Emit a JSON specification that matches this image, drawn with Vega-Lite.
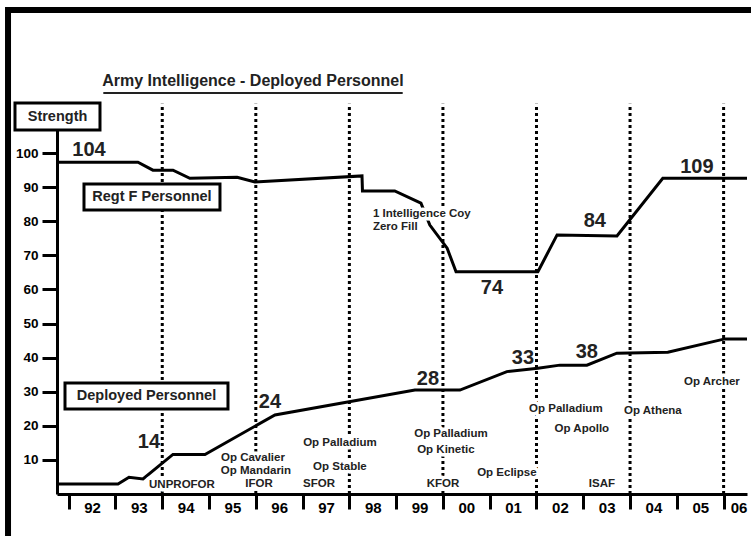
{
  "$schema": "https://vega.github.io/schema/vega-lite/v6.json",
  "width": 690,
  "height": 375,
  "autosize": {"type": "none"},
  "padding": {"left": 57, "top": 119, "right": 4, "bottom": 42},
  "background": "white",
  "config": {"font": "Liberation Sans", "view": {"stroke": null}},
  "datasets": {
    "personnel": [
      {"series": "Regt F Personnel", "year": 1991.75, "value": 97.3},
      {"series": "Regt F Personnel", "year": 1993.48, "value": 97.3},
      {"series": "Regt F Personnel", "year": 1993.8, "value": 95.0},
      {"series": "Regt F Personnel", "year": 1994.23, "value": 95.0},
      {"series": "Regt F Personnel", "year": 1994.59, "value": 92.6},
      {"series": "Regt F Personnel", "year": 1995.6, "value": 92.9},
      {"series": "Regt F Personnel", "year": 1995.98, "value": 91.5},
      {"series": "Regt F Personnel", "year": 1998.27, "value": 93.3},
      {"series": "Regt F Personnel", "year": 1998.28, "value": 88.9},
      {"series": "Regt F Personnel", "year": 1998.97, "value": 88.9},
      {"series": "Regt F Personnel", "year": 1999.53, "value": 85.3},
      {"series": "Regt F Personnel", "year": 1999.72, "value": 78.9},
      {"series": "Regt F Personnel", "year": 2000.09, "value": 72.1},
      {"series": "Regt F Personnel", "year": 2000.28, "value": 65.2},
      {"series": "Regt F Personnel", "year": 2002.03, "value": 65.2},
      {"series": "Regt F Personnel", "year": 2002.44, "value": 76.0},
      {"series": "Regt F Personnel", "year": 2003.72, "value": 75.7},
      {"series": "Regt F Personnel", "year": 2004.7, "value": 92.6},
      {"series": "Regt F Personnel", "year": 2006.5, "value": 92.6},
      {"series": "Deployed Personnel", "year": 1991.75, "value": 2.9},
      {"series": "Deployed Personnel", "year": 1993.054, "value": 2.9},
      {"series": "Deployed Personnel", "year": 1993.289, "value": 4.9},
      {"series": "Deployed Personnel", "year": 1993.588, "value": 4.4},
      {"series": "Deployed Personnel", "year": 1994.229, "value": 11.6},
      {"series": "Deployed Personnel", "year": 1994.913, "value": 11.6},
      {"series": "Deployed Personnel", "year": 1996.409, "value": 23.2},
      {"series": "Deployed Personnel", "year": 1999.401, "value": 30.5},
      {"series": "Deployed Personnel", "year": 2000.363, "value": 30.5},
      {"series": "Deployed Personnel", "year": 2001.367, "value": 35.9},
      {"series": "Deployed Personnel", "year": 2002.03, "value": 36.9},
      {"series": "Deployed Personnel", "year": 2002.5, "value": 37.8},
      {"series": "Deployed Personnel", "year": 2003.077, "value": 37.8},
      {"series": "Deployed Personnel", "year": 2003.718, "value": 41.3},
      {"series": "Deployed Personnel", "year": 2004.808, "value": 41.6},
      {"series": "Deployed Personnel", "year": 2006.026, "value": 45.5},
      {"series": "Deployed Personnel", "year": 2006.5, "value": 45.5}
    ],
    "eras": [
      {"year": 1994}, {"year": 1996}, {"year": 1998}, {"year": 2000},
      {"year": 2002}, {"year": 2004}, {"year": 2006}
    ],
    "labels": [
      {"kind": "num", "label": "104", "year": 1992.434, "value": 100.9},
      {"kind": "num", "label": "14", "year": 1993.716, "value": 15.2},
      {"kind": "num", "label": "24", "year": 1996.302, "value": 27.0},
      {"kind": "num", "label": "28", "year": 1999.679, "value": 33.7},
      {"kind": "num", "label": "33", "year": 2001.709, "value": 39.9},
      {"kind": "num", "label": "38", "year": 2003.077, "value": 41.6},
      {"kind": "num", "label": "74", "year": 2001.047, "value": 60.4},
      {"kind": "num", "label": "84", "year": 2003.248, "value": 80.1},
      {"kind": "num", "label": "109", "year": 2005.428, "value": 95.9},
      {"kind": "op", "label": "UNPROFOR", "year": 1994.421, "value": 2.6},
      {"kind": "op", "label": "Op Cavalier", "year": 1995.939, "value": 10.6},
      {"kind": "op", "label": "Op Mandarin", "year": 1996.003, "value": 6.7},
      {"kind": "op", "label": "IFOR", "year": 1996.067, "value": 2.9},
      {"kind": "op", "label": "Op Palladium", "year": 1997.798, "value": 15.0},
      {"kind": "op", "label": "Op Stable", "year": 1997.798, "value": 7.9},
      {"kind": "op", "label": "SFOR", "year": 1997.35, "value": 2.9},
      {"kind": "op", "label": "Op Palladium", "year": 2000.171, "value": 17.6},
      {"kind": "op", "label": "Op Kinetic", "year": 2000.064, "value": 12.9},
      {"kind": "op", "label": "KFOR", "year": 2000.0, "value": 2.9},
      {"kind": "op", "label": "Op Eclipse", "year": 2001.367, "value": 6.2},
      {"kind": "op", "label": "Op Palladium", "year": 2002.628, "value": 24.9},
      {"kind": "op", "label": "Op Apollo", "year": 2002.97, "value": 19.1},
      {"kind": "op", "label": "ISAF", "year": 2003.398, "value": 2.9},
      {"kind": "op", "label": "Op Athena", "year": 2004.488, "value": 24.3},
      {"kind": "op", "label": "Op Archer", "year": 2005.749, "value": 32.8},
      {"kind": "note", "label": "1 Intelligence Coy", "year": 1998.504, "value": 82.1},
      {"kind": "note", "label": "Zero Fill", "year": 1998.504, "value": 78.3},
      {"kind": "box", "label": "Strength", "year": 1991.761, "value": 110.7},
      {"kind": "box", "label": "Regt F Personnel", "year": 1993.78, "value": 87.1},
      {"kind": "box", "label": "Deployed Personnel", "year": 1993.663, "value": 28.7}
    ]
  },
  "layer": [
    {
      "data": {"values": [{"frame": "outer"}]},
      "mark": {"type": "rect", "fillOpacity": 0, "stroke": "black", "strokeWidth": 6},
      "encoding": {"x": {"datum": 1990.703}, "x2": {"datum": 2008}, "y": {"datum": 141.94}, "y2": {"datum": -20}}
    },
    {
      "data": {"name": "eras"},
      "mark": {"type": "rule", "color": "black", "strokeWidth": 3, "strokeDash": [3, 3]},
      "encoding": {
        "x": {"field": "year", "type": "quantitative", "title": null},
        "y": {"datum": 0},
        "y2": {"datum": 114.5}
      }
    },
    {
      "data": {"name": "personnel"},
      "mark": {"type": "line", "color": "black", "strokeWidth": 3},
      "encoding": {
        "x": {
          "field": "year", "type": "quantitative", "title": null,
          "scale": {"domain": [1991.75, 2006.5], "nice": false, "zero": false},
          "axis": {
            "values": [1992, 1993, 1994, 1995, 1996, 1997, 1998, 1999, 2000, 2001, 2002, 2003, 2004, 2005, 2006],
            "format": "d",
            "labelExpr": "substring(datum.label, 2, 4)",
            "labelOffset": {"condition": {"test": "datum.value == 2006", "value": 15}, "value": 23.4},
            "labelFontSize": 15, "labelFontWeight": "bold", "labelColor": "black",
            "labelPadding": -9, "labelFlush": false, "labelOverlap": false, "labelBound": false,
            "tickSize": 15, "tickWidth": 3, "tickColor": "black",
            "domainWidth": 3, "domainColor": "black", "grid": false
          }
        },
        "y": {
          "field": "value", "type": "quantitative", "title": null,
          "scale": {"domain": [0, 110], "nice": false},
          "axis": {
            "values": [10, 20, 30, 40, 50, 60, 70, 80, 90, 100],
            "labelFontSize": 13.5, "labelFontWeight": "bold", "labelColor": "black",
            "labelPadding": 4, "tickSize": 15, "tickWidth": 3, "tickColor": "black",
            "domainWidth": 3, "domainColor": "black", "grid": false
          }
        },
        "detail": {"field": "series"}
      }
    },
    {
      "data": {"name": "labels"},
      "transform": [{"filter": "datum.kind == 'op'"}],
      "mark": {"type": "text", "fontSize": 11.5, "fontWeight": "bold", "fill": "white", "stroke": "white", "strokeWidth": 7, "strokeJoin": "round", "baseline": "middle"},
      "encoding": {
        "x": {"field": "year", "type": "quantitative", "title": null},
        "y": {"field": "value", "type": "quantitative", "title": null},
        "text": {"field": "label"}
      }
    },
    {
      "data": {"name": "labels"},
      "transform": [{"filter": "datum.kind == 'note'"}],
      "mark": {"type": "text", "fontSize": 11.5, "fontWeight": "bold", "align": "left", "fill": "white", "stroke": "white", "strokeWidth": 7, "strokeJoin": "round", "baseline": "middle"},
      "encoding": {
        "x": {"field": "year", "type": "quantitative", "title": null},
        "y": {"field": "value", "type": "quantitative", "title": null},
        "text": {"field": "label"}
      }
    },
    {
      "data": {"name": "labels"},
      "transform": [{"filter": "datum.kind == 'op'"}],
      "mark": {"type": "text", "fontSize": 11.5, "fontWeight": "bold", "color": "#222", "baseline": "middle"},
      "encoding": {
        "x": {"field": "year", "type": "quantitative", "title": null},
        "y": {"field": "value", "type": "quantitative", "title": null},
        "text": {"field": "label"}
      }
    },
    {
      "data": {"name": "labels"},
      "transform": [{"filter": "datum.kind == 'note'"}],
      "mark": {"type": "text", "fontSize": 11.5, "fontWeight": "bold", "align": "left", "color": "#222", "baseline": "middle"},
      "encoding": {
        "x": {"field": "year", "type": "quantitative", "title": null},
        "y": {"field": "value", "type": "quantitative", "title": null},
        "text": {"field": "label"}
      }
    },
    {
      "data": {"name": "labels"},
      "transform": [{"filter": "datum.kind == 'num'"}],
      "mark": {"type": "text", "fontSize": 20, "fontWeight": "bold", "color": "#222", "baseline": "middle"},
      "encoding": {
        "x": {"field": "year", "type": "quantitative", "title": null},
        "y": {"field": "value", "type": "quantitative", "title": null},
        "text": {"field": "label"}
      }
    },
    {
      "data": {"values": [{"box": "Strength"}]},
      "mark": {"type": "rect", "fill": "white", "stroke": "black", "strokeWidth": 3},
      "encoding": {"x": {"datum": 1990.852}, "x2": {"datum": 1992.669}, "y": {"datum": 114.66}, "y2": {"datum": 106.74}}
    },
    {
      "data": {"values": [{"box": "Regt F Personnel"}]},
      "mark": {"type": "rect", "fill": "white", "stroke": "black", "strokeWidth": 3},
      "encoding": {"x": {"datum": 1992.327}, "x2": {"datum": 1995.234}, "y": {"datum": 90.9}, "y2": {"datum": 83.3}}
    },
    {
      "data": {"values": [{"box": "Deployed Personnel"}]},
      "mark": {"type": "rect", "fill": "white", "stroke": "black", "strokeWidth": 3},
      "encoding": {"x": {"datum": 1991.921}, "x2": {"datum": 1995.405}, "y": {"datum": 32.55}, "y2": {"datum": 24.93}}
    },
    {
      "data": {"name": "labels"},
      "transform": [{"filter": "datum.kind == 'box'"}],
      "mark": {"type": "text", "fontSize": 14.5, "fontWeight": "bold", "color": "#222", "baseline": "middle"},
      "encoding": {
        "x": {"field": "year", "type": "quantitative", "title": null},
        "y": {"field": "value", "type": "quantitative", "title": null},
        "text": {"field": "label"}
      }
    },
    {
      "data": {"values": [{"title": "Army Intelligence - Deployed Personnel"}]},
      "mark": {"type": "text", "font": "Liberation Sans", "fontSize": 16, "fontWeight": "bold", "color": "#222", "baseline": "alphabetic"},
      "encoding": {"x": {"datum": 1995.939}, "y": {"datum": 119.6}, "text": {"field": "title"}}
    },
    {
      "data": {"values": [{"title": "underline"}]},
      "mark": {"type": "rule", "color": "#222", "strokeWidth": 2},
      "encoding": {"x": {"datum": 1992.74}, "x2": {"datum": 1999.14}, "y": {"datum": 117.6}}
    }
  ]
}
